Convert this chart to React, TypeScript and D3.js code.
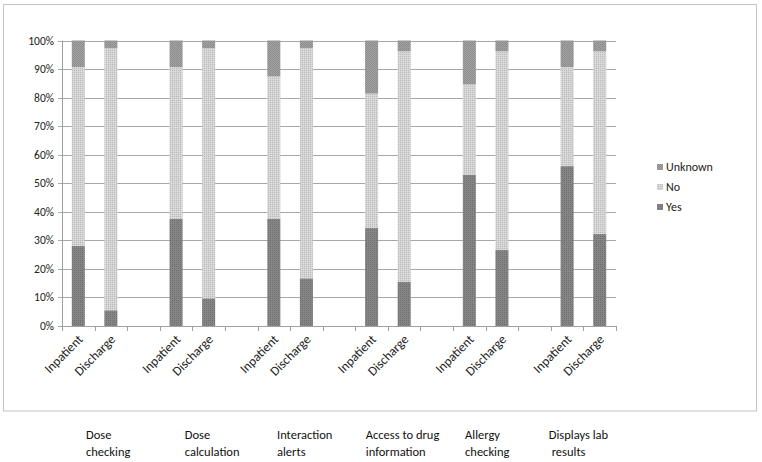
import React from "react";
import * as d3 from "d3";

const groupLine1 = ["Dose", "Dose", "Interaction", "Access to drug", "Allergy", "Displays lab"];
const groupLine2 = ["checking", "calculation", "alerts", "information", "checking", " results"];
const barLabels = ["Inpatient", "Discharge"];
const seriesNames = ["Yes", "No", "Unknown"];
const yesValues = [28, 5.5, 37.5, 9.7, 37.5, 16.7, 34.3, 15.4, 53, 26.6, 56, 32.2];
const noValues = [62.7, 91.8, 53.2, 87.6, 49.9, 80.6, 47.1, 80.8, 31.6, 69.6, 34.7, 64.0];
const unknownValues = [9.3, 2.7, 9.3, 2.7, 12.6, 2.7, 18.6, 3.8, 15.4, 3.8, 9.3, 3.8];
const yTicks = [0, 10, 20, 30, 40, 50, 60, 70, 80, 90, 100];

const W = 762;
const H = 462;
const plot = { left: 62, right: 616, top: 40.5, bottom: 326 };
const fillIds = ["pYes", "pNo", "pUnk"];
const groupLabelOffsets = [24, 25, 19.5, 10.5, 12, -2];
const FONT = "Carlito, Calibri, Lato, 'Liberation Sans', sans-serif";

export default function App() {
  const nSlots = groupLine1.length * 3 - 1;
  const x = d3
    .scaleBand<number>()
    .domain(d3.range(nSlots))
    .range([plot.left, plot.right])
    .paddingInner(0)
    .paddingOuter(0);
  const y = d3.scaleLinear().domain([0, 100]).range([plot.bottom, plot.top]);
  const bw = x.bandwidth();
  const barW = bw * 0.4;

  const rows = yesValues.map((v, i) => ({
    slot: Math.floor(i / 2) * 3 + (i % 2),
    label: barLabels[i % 2],
    Yes: v,
    No: noValues[i],
    Unknown: unknownValues[i],
  }));
  const stack = d3.stack<any>().keys(seriesNames);
  const layers = stack(rows);

  const legendItems = [...seriesNames].reverse();

  return (
    <div style={{ position: "absolute", left: 0, top: 0 }}>
      <svg width={W} height={H} style={{ display: "block", background: "#fff" }}>
        <defs>
          <pattern id="pYes" width="2" height="2" patternUnits="userSpaceOnUse">
            <rect width="2" height="2" fill="#858585" />
            <rect width="1" height="1" fill="#6f6f6f" />
          </pattern>
          <pattern id="pNo" width="2" height="2" patternUnits="userSpaceOnUse">
            <rect width="2" height="2" fill="#d3d3d3" />
            <rect width="1" height="1" fill="#bcbcbc" />
            <rect x="1" y="1" width="1" height="1" fill="#dedede" />
          </pattern>
          <pattern id="pUnk" width="2" height="2" patternUnits="userSpaceOnUse">
            <rect width="2" height="2" fill="#a3a3a3" />
            <rect width="1" height="1" fill="#8a8a8a" />
            <rect x="1" y="1" width="1" height="1" fill="#8f8f8f" />
          </pattern>
        </defs>
        <rect x={3.5} y={4.5} width={753} height={406.5} fill="#fff" stroke="#c4c4c4" />

        {yTicks.map((t) => (
          <g key={t}>
            <line x1={plot.left - 4} x2={plot.right} y1={Math.round(y(t)) + 0.5} y2={Math.round(y(t)) + 0.5} stroke={t === 0 ? "#a0a0a0" : "#a8a8a8"} />
            <text x={54} y={y(t)} dy="0.35em" textAnchor="end" fontFamily={FONT} fontSize={11.5} fill="#222">
              {t}%
            </text>
          </g>
        ))}
        <line x1={plot.left + 0.5} x2={plot.left + 0.5} y1={plot.top} y2={plot.bottom + 1} stroke="#a0a0a0" />
        {d3.range(nSlots + 1).map((i) => {
          const xx = Math.round(plot.left + i * bw) + 0.5;
          return <line key={i} x1={xx} x2={xx} y1={plot.bottom} y2={plot.bottom + 5} stroke="#a0a0a0" />;
        })}

        {layers.map((layer, li) => (
          <g key={layer.key} fill={`url(#${fillIds[li]})`}>
            {layer.map((d, i) => {
              const cx = (x(rows[i].slot) as number) + bw / 2;
              return (
                <rect
                  key={i}
                  x={cx - barW / 2}
                  y={y(d[1])}
                  width={barW}
                  height={y(d[0]) - y(d[1])}
                />
              );
            })}
          </g>
        ))}

        {rows.map((r, i) => {
          const cx = (x(r.slot) as number) + bw / 2;
          return (
            <text
              key={i}
              transform={`translate(${cx + 2},${plot.bottom + 11}) rotate(-45)`}
              textAnchor="end"
              dy="0.35em"
              fontFamily={FONT}
              fontSize={13}
              fill="#222"
            >
              {r.label}
            </text>
          );
        })}

        {legendItems.map((name, i) => {
          const idx = seriesNames.indexOf(name);
          const ly = 167 + i * 20;
          return (
            <g key={name}>
              <rect x={657} y={ly - 3} width={6} height={6} fill={`url(#${fillIds[idx]})`} />
              <text x={666} y={ly} dy="0.35em" fontFamily={FONT} fontSize={12} fill="#222">
                {name}
              </text>
            </g>
          );
        })}

        {groupLine1.map((l1, g) => {
          const gx = (x(g * 3) as number) + groupLabelOffsets[g];
          return (
            <text key={g} fontFamily={FONT} fontSize={12.5} fill="#111">
              <tspan x={gx} y={439}>{l1}</tspan>
              <tspan x={gx} y={456} style={{ whiteSpace: "pre" }}>{groupLine2[g]}</tspan>
            </text>
          );
        })}
      </svg>
    </div>
  );
}
